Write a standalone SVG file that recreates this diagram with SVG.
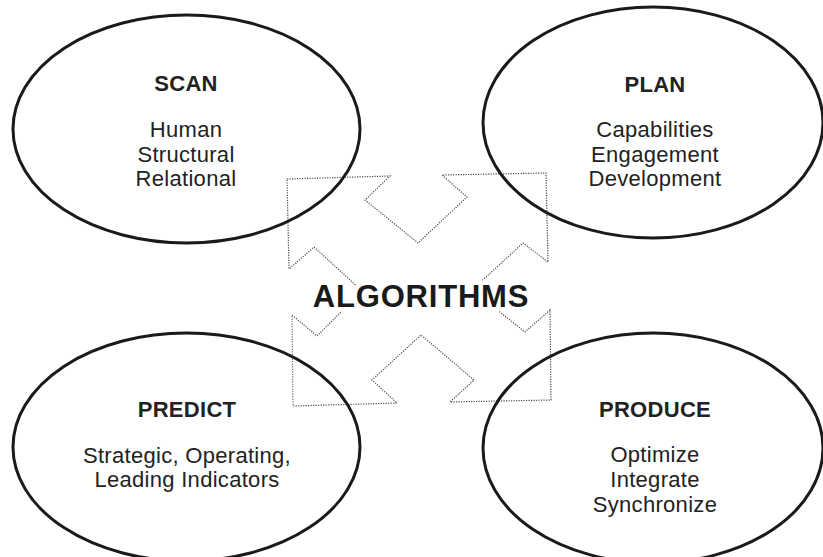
<svg xmlns="http://www.w3.org/2000/svg" width="823" height="557" viewBox="0 0 823 557">
  <style>
    .oval { fill: none; stroke: #1a1a1a; stroke-width: 3; }
    .title { font-family: "Liberation Sans", Arial, sans-serif; font-size: 22px; font-weight: bold; fill: #222; text-anchor: middle; letter-spacing: 0.3px; }
    .body { font-family: "Liberation Sans", Arial, sans-serif; font-size: 22px; fill: #222; text-anchor: middle; letter-spacing: 0.3px; }
    .dots { fill: none; stroke: #4a4a4a; stroke-width: 1.2; stroke-dasharray: 1.2 1.3; stroke-linejoin: miter; }
    .center { font-family: "Liberation Sans", Arial, sans-serif; font-size: 31px; font-weight: bold; fill: #1a1a1a; text-anchor: middle; letter-spacing: 0.8px; stroke: #fff; stroke-width: 9; paint-order: stroke; stroke-linejoin: round; }
  </style>
  <rect width="823" height="557" fill="#fff"/>
  <g id="connectors">
    <polygon class="dots" points="287,179 390,176 365,200 418,243 467,197 442,175 546,173 548,262 523,243 472,290 525,332 550,310 551,400 450,402 474,380 421,335 372,380 397,403 293,406 292,315 317,336 362,291 314,247 289,269"/>
  </g>
  <g id="algorithms">
    <text class="center" x="421" y="307">ALGORITHMS</text>
  </g>
  <g id="scan">
    <ellipse class="oval" cx="186.5" cy="129" rx="173.5" ry="114"/>
    <text class="title" x="186" y="91">SCAN</text>
    <text class="body" x="186" y="137">Human</text>
    <text class="body" x="186" y="162">Structural</text>
    <text class="body" x="186" y="186">Relational</text>
  </g>
  <g id="plan">
    <ellipse class="oval" cx="653" cy="122.5" rx="170" ry="115.5"/>
    <text class="title" x="655" y="92">PLAN</text>
    <text class="body" x="655" y="137">Capabilities</text>
    <text class="body" x="655" y="162">Engagement</text>
    <text class="body" x="655" y="186">Development</text>
  </g>
  <g id="predict">
    <ellipse class="oval" cx="186.5" cy="447" rx="173.5" ry="114"/>
    <text class="title" x="187" y="417">PREDICT</text>
    <text class="body" x="187" y="463">Strategic, Operating,</text>
    <text class="body" x="187" y="487">Leading Indicators</text>
  </g>
  <g id="produce">
    <ellipse class="oval" cx="653" cy="448" rx="170" ry="115"/>
    <text class="title" x="655" y="417">PRODUCE</text>
    <text class="body" x="655" y="462">Optimize</text>
    <text class="body" x="655" y="487">Integrate</text>
    <text class="body" x="655" y="512">Synchronize</text>
  </g>
</svg>
